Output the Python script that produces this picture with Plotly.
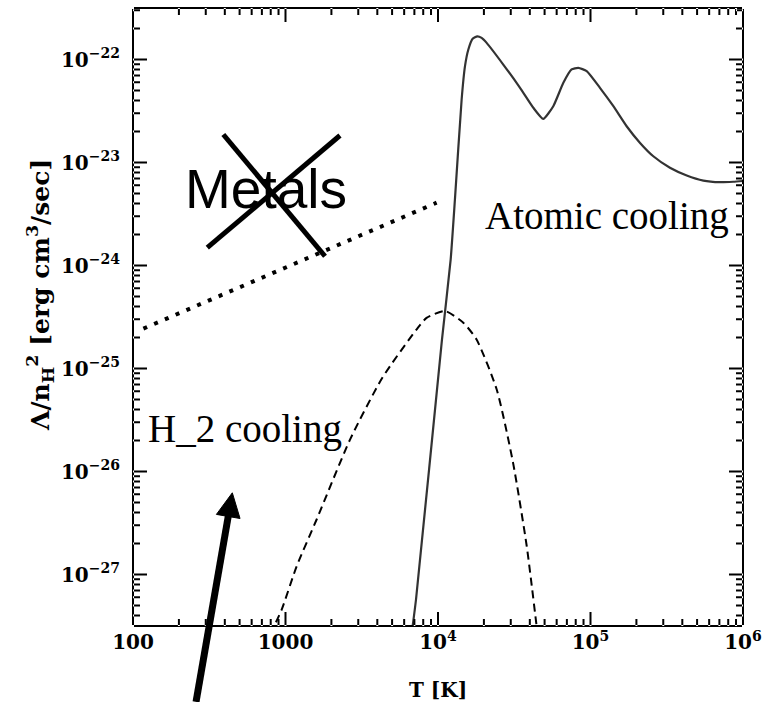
import math
import plotly.graph_objects as go

# ---------------- data ----------------
atomic_T = [6683, 7178, 10617, 12106, 12912, 14289, 15031, 15812, 16866, 18113,
            19320, 20845, 26792, 34514, 42170, 48978, 57016, 66374, 75162, 83176,
            94406, 115345, 141254, 172584, 211349, 258226, 331894, 427563, 549541,
            706318, 862979, 1000000]
atomic_L = [2.51e-28, 5.75e-28, 1.91e-25, 1.14e-24, 4.38e-24, 4.09e-23, 8.61e-23,
            1.25e-22, 1.59e-22, 1.68e-22, 1.62e-22, 1.45e-22, 8.93e-23, 5.31e-23,
            3.40e-23, 2.65e-23, 3.52e-23, 5.94e-23, 8.0e-23, 8.30e-23, 7.71e-23,
            5.31e-23, 3.52e-23, 2.25e-23, 1.55e-23, 1.15e-23, 8.89e-24, 7.48e-24,
            6.68e-24, 6.44e-24, 6.50e-24, 6.61e-24]

h2_T = [794, 944, 1183, 1600, 2649, 4315, 7244, 8414, 11117, 14655, 17906,
        24266, 31046, 38194, 43251, 45186]
h2_L = [2.63e-28, 4.57e-28, 1.20e-27, 3.42e-27, 2.04e-26, 8.13e-26, 2.40e-25,
        3.10e-25, 3.61e-25, 2.78e-25, 1.91e-25, 6.25e-26, 1.22e-26, 1.88e-27,
        4.27e-28, 2.51e-28]

metal_T = [117, 9795]
metal_L = [2.44e-25, 4.07e-24]

# the "X" crossing out "Metals"
cross1_T = [391, 1816]
cross1_L = [1.87e-23, 1.23e-24]
cross2_T = [2275, 307]
cross2_L = [1.83e-23, 1.49e-24]

# arrow pointing at the H_2 cooling region (tail below the axis)
arrow_tail = (259, 5.8e-29)
arrow_tip = (448, 6.21e-27)

x_tickvals = [100, 1000, 1e4, 1e5, 1e6]
x_ticktext = ["100", "1000", "10<sup>4</sup>", "10<sup>5</sup>", "10<sup>6</sup>"]
y_tickvals = [1e-27, 1e-26, 1e-25, 1e-24, 1e-23, 1e-22]
y_ticktext = ["10<sup>\u221227</sup>", "10<sup>\u221226</sup>", "10<sup>\u221225</sup>",
              "10<sup>\u221224</sup>", "10<sup>\u221223</sup>", "10<sup>\u221222</sup>"]

# ---------------- layout constants ----------------
W, H = 775, 702
ML, MR, MT, MB = 133, 32, 8, 76
XR = [2, 6]
YR = [-27.5, -21.5]
PW, PH = W - ML - MR, H - MT - MB
MAJ_LEN, MIN_LEN = 14, 7
STROKE = 2.0

x_minor = [m * 10 ** e for e in range(2, 6) for m in range(2, 10)]
y_minor = [m * 10.0 ** e for e in range(-28, -21) for m in range(2, 10)]
y_minor = [v for v in y_minor if YR[0] < math.log10(v) < YR[1]]

TICKFONT = dict(family="DejaVu Serif", size=20, color="black", weight="bold")

fig = go.Figure()
fig.add_trace(go.Scatter(x=atomic_T, y=atomic_L, mode="lines",
                         line=dict(color="#333333", width=2.2, shape="spline", smoothing=0.5),
                         showlegend=False, hoverinfo="skip"))
fig.add_trace(go.Scatter(x=h2_T, y=h2_L, mode="lines",
                         line=dict(color="black", width=2, dash="8px,5px", shape="spline", smoothing=0.6),
                         showlegend=False, hoverinfo="skip"))
fig.add_trace(go.Scatter(x=metal_T, y=metal_L, mode="lines",
                         line=dict(color="black", width=4, dash="4px,7.7px"),
                         showlegend=False, hoverinfo="skip"))
for cx, cy in [(cross1_T, cross1_L), (cross2_T, cross2_L)]:
    fig.add_trace(go.Scatter(x=cx, y=cy, mode="lines",
                             line=dict(color="black", width=5),
                             showlegend=False, hoverinfo="skip"))

axis_common = dict(showgrid=False, zeroline=False, showline=False, ticks="",
                   tickfont=TICKFONT)
fig.update_xaxes(type="log", range=XR, tickmode="array", tickvals=x_tickvals,
                 ticktext=x_ticktext, ticklabelstandoff=2, **axis_common)
fig.update_yaxes(type="log", range=YR, tickmode="array", tickvals=y_tickvals,
                 ticktext=y_ticktext, ticklabelstandoff=12, **axis_common)


def to_px(T, L):
    """data -> pixel"""
    px = ML + (math.log10(T) - XR[0]) / (XR[1] - XR[0]) * PW
    py = MT + (YR[1] - math.log10(L)) / (YR[1] - YR[0]) * PH
    return px, py


def to_paper(px, py):
    """pixel -> paper coordinates"""
    return (px - ML) / PW, (MT + PH - py) / PH


def xpaper(v):
    return (math.log10(v) - XR[0]) / (XR[1] - XR[0])


def ypaper(v):
    return (math.log10(v) - YR[0]) / (YR[1] - YR[0])


def box(x0, x1, y0, y1):
    return f"M{x0:.6f},{y0:.6f}L{x1:.6f},{y0:.6f}L{x1:.6f},{y1:.6f}L{x0:.6f},{y1:.6f}Z"


# frame and ticks as thin filled boxes (paper coordinates)
hx_ = STROKE / 2 / PW   # half stroke, horizontal, in paper units
hy_ = STROKE / 2 / PH   # half stroke, vertical, in paper units
parts = [
    box(-hx_, 1 + hx_, -hy_, hy_),          # bottom
    box(-hx_, 1 + hx_, 1 - hy_, 1 + hy_),   # top
    box(-hx_, hx_, -hy_, 1 + hy_),          # left
    box(1 - hx_, 1 + hx_, -hy_, 1 + hy_),   # right
]
for vals, ln_px in [(x_tickvals, MAJ_LEN), (x_minor, MIN_LEN)]:
    for v in vals:
        xp = xpaper(v)
        if not (0 < xp < 1):
            continue
        d = ln_px / PH
        parts.append(box(xp - hx_, xp + hx_, 0, d))
        parts.append(box(xp - hx_, xp + hx_, 1 - d, 1))
for vals, ln_px in [(y_tickvals, MAJ_LEN), (y_minor, MIN_LEN)]:
    for v in vals:
        yp = ypaper(v)
        if not (0 < yp < 1):
            continue
        d = ln_px / PW
        parts.append(box(0, d, yp - hy_, yp + hy_))
        parts.append(box(1 - d, 1, yp - hy_, yp + hy_))
fig.add_shape(type="path", xref="paper", yref="paper", path="".join(parts),
              fillcolor="black", line=dict(width=0), layer="above")

# arrow drawn as shaft + triangular head
tx, ty = to_px(*arrow_tail)
hx, hy = to_px(*arrow_tip)
dx, dy = hx - tx, hy - ty
ln = math.hypot(dx, dy)
ux, uy = dx / ln, dy / ln
nx, ny = -uy, ux
HEAD_L, HEAD_W = 24, 24
bx, by = hx - HEAD_L * ux, hy - HEAD_L * uy
c1 = to_paper(bx + HEAD_W / 2 * nx, by + HEAD_W / 2 * ny)
c2 = to_paper(bx - HEAD_W / 2 * nx, by - HEAD_W / 2 * ny)
tip_p = to_paper(hx, hy)
tail_p = to_paper(tx, ty)
base_p = to_paper(bx + 2 * ux, by + 2 * uy)

fig.add_shape(type="line", xref="paper", yref="paper",
              x0=tail_p[0], y0=tail_p[1], x1=base_p[0], y1=base_p[1],
              line=dict(color="black", width=7))
fig.add_shape(type="path", xref="paper", yref="paper",
              path=f"M{tip_p[0]},{tip_p[1]} L{c1[0]},{c1[1]} L{c2[0]},{c2[1]} Z",
              fillcolor="black", line=dict(color="black", width=1))

# text annotations
fig.add_annotation(x=math.log10(740), y=math.log10(5.47e-24), xref="x", yref="y",
                   text="Metals", showarrow=False,
                   font=dict(family="Liberation Sans", size=55, color="black"))
fig.add_annotation(x=math.log10(129000), y=math.log10(3.03e-24), xref="x", yref="y",
                   text="Atomic cooling", showarrow=False,
                   font=dict(family="Liberation Serif", size=39, color="black"))
fig.add_annotation(x=math.log10(542), y=math.log10(2.56e-26), xref="x", yref="y",
                   text="H_2 cooling", showarrow=False,
                   font=dict(family="Liberation Serif", size=39, color="black"))

# axis titles
fig.add_annotation(x=0.5, y=to_paper(0, 690)[1], xref="paper", yref="paper",
                   text="T [K]", showarrow=False, yanchor="middle",
                   font=dict(family="DejaVu Serif", size=20, color="black", weight="bold"))
fig.add_annotation(x=to_paper(40, 0)[0], y=to_paper(0, 295)[1], xref="paper", yref="paper",
                   text="\u039b/n<sub>H</sub><sup>2</sup> [erg cm<sup>3</sup>/sec]",
                   textangle=-90, showarrow=False, xanchor="center", yanchor="middle",
                   font=dict(family="DejaVu Serif", size=25, color="black", weight="bold"))

fig.update_layout(width=W, height=H, margin=dict(l=ML, r=MR, t=MT, b=MB),
                  paper_bgcolor="white", plot_bgcolor="white", showlegend=False)

fig.write_html("out.html", config={"displayModeBar": False},
               post_script="document.body.style.margin='0';")
